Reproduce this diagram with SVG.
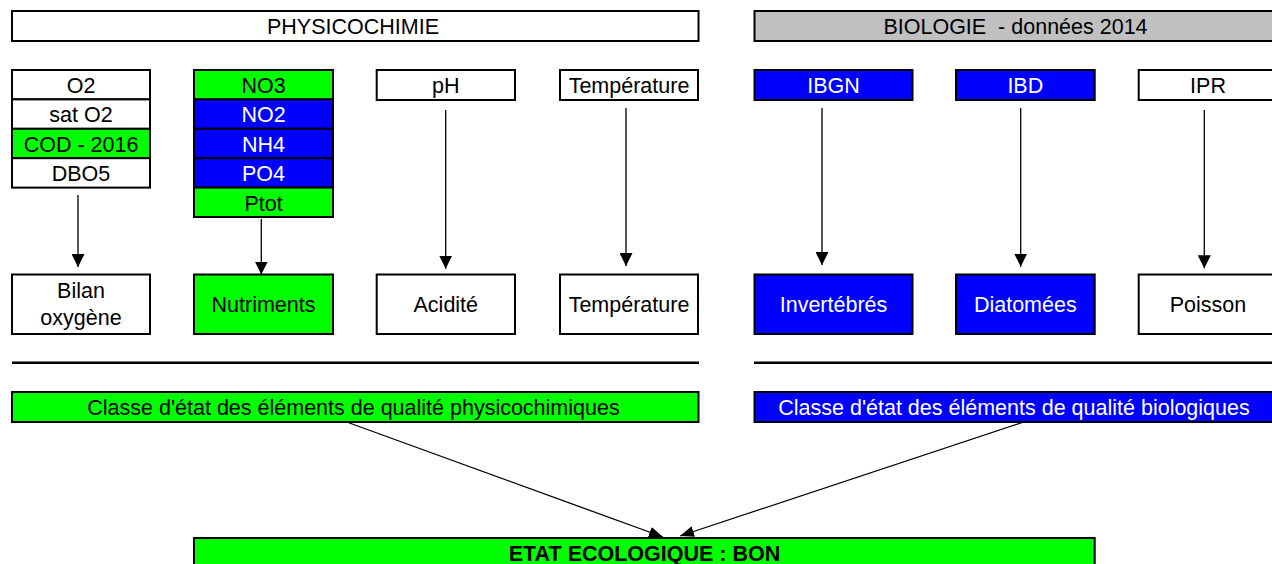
<svg xmlns="http://www.w3.org/2000/svg" width="1272" height="564" viewBox="0 0 1272 564">
  <style>
    text { font-family: "Liberation Sans", Arial, sans-serif; font-size: 21.5px; text-anchor: middle; fill: #000; }
    text.w { fill: #fff; }
    text.b { font-weight: bold; }
    rect { stroke: #000; stroke-width: 2; }
    .white { fill: #fff; }
    .green { fill: #00ff00; }
    .blue { fill: #0000ff; }
    .grey { fill: #c0c0c0; }
    .rule { stroke: #000; stroke-width: 2.5; fill: none; }
    .link { stroke: #000; stroke-width: 1.3; fill: none; }
  </style>
  <defs>
    <marker id="arrow" viewBox="0 0 13 13" refX="13" refY="6.5" markerWidth="13" markerHeight="13" markerUnits="userSpaceOnUse" orient="auto">
      <path d="M0,0 L13,6.5 L0,13 Z" fill="#000"/>
    </marker>
    <marker id="arrow-s" viewBox="0 0 14 11" refX="14" refY="5.5" markerWidth="14" markerHeight="11" markerUnits="userSpaceOnUse" orient="auto">
      <path d="M0,0 L14,5.5 L0,11 Z" fill="#000"/>
    </marker>
  </defs>

  <!-- section headers -->
  <g id="physicochimie">
    <rect class="white" x="12" y="11" width="686.5" height="30"/>
    <text x="353" y="33.5">PHYSICOCHIMIE</text>
  </g>
  <g id="biologie">
    <rect class="grey" x="754.5" y="11" width="523" height="30"/>
    <text x="1015.5" y="33.5">BIOLOGIE &#160;- données 2014</text>
  </g>

  <!-- oxygen parameters -->
  <g id="oxygene-params">
    <rect class="white" x="12" y="70" width="138" height="29.4"/>
    <text x="81" y="93">O2</text>
    <rect class="white" x="12" y="99.4" width="138" height="29.4"/>
    <text x="81" y="122.4">sat O2</text>
    <rect class="green" x="12" y="128.8" width="138" height="29.4"/>
    <text x="81" y="151.8">COD - 2016</text>
    <rect class="white" x="12" y="158.2" width="138" height="29.4"/>
    <text x="81" y="181.2">DBO5</text>
  </g>

  <!-- nutrient parameters -->
  <g id="nutriments-params">
    <rect class="green" x="194" y="70" width="139" height="29.4"/>
    <text x="263.5" y="93">NO3</text>
    <rect class="blue" x="194" y="99.4" width="139" height="29.4"/>
    <text class="w" x="263.5" y="122.4">NO2</text>
    <rect class="blue" x="194" y="128.8" width="139" height="29.4"/>
    <text class="w" x="263.5" y="151.8">NH4</text>
    <rect class="blue" x="194" y="158.2" width="139" height="29.4"/>
    <text class="w" x="263.5" y="181.2">PO4</text>
    <rect class="green" x="194" y="187.6" width="139" height="29.4"/>
    <text x="263.5" y="210.6">Ptot</text>
  </g>

  <g id="ph">
    <rect class="white" x="376.7" y="70" width="138.3" height="30"/>
    <text x="445.8" y="92.5">pH</text>
  </g>
  <g id="temperature-param">
    <rect class="white" x="560" y="70" width="138" height="30"/>
    <text x="629" y="92.5">Température</text>
  </g>
  <g id="ibgn">
    <rect class="blue" x="754.5" y="70" width="158" height="30"/>
    <text class="w" x="833.5" y="92.5">IBGN</text>
  </g>
  <g id="ibd">
    <rect class="blue" x="956" y="70" width="138.7" height="30"/>
    <text class="w" x="1025.3" y="92.5">IBD</text>
  </g>
  <g id="ipr">
    <rect class="white" x="1138.7" y="70" width="139" height="30"/>
    <text x="1208" y="92.5">IPR</text>
  </g>

  <!-- quality elements -->
  <g id="bilan-oxygene">
    <rect class="white" x="12" y="274.5" width="138" height="59.5"/>
    <text x="81" y="298">Bilan</text>
    <text x="81" y="325">oxygène</text>
  </g>
  <g id="nutriments">
    <rect class="green" x="194" y="274.5" width="139" height="59.5"/>
    <text x="263.5" y="312">Nutriments</text>
  </g>
  <g id="acidite">
    <rect class="white" x="376.7" y="274.5" width="138.3" height="59.5"/>
    <text x="445.8" y="312">Acidité</text>
  </g>
  <g id="temperature">
    <rect class="white" x="560" y="274.5" width="138" height="59.5"/>
    <text x="629" y="312">Température</text>
  </g>
  <g id="invertebres">
    <rect class="blue" x="754.5" y="274.5" width="158" height="59.5"/>
    <text class="w" x="833.5" y="312">Invertébrés</text>
  </g>
  <g id="diatomees">
    <rect class="blue" x="956" y="274.5" width="138.7" height="59.5"/>
    <text class="w" x="1025.3" y="312">Diatomées</text>
  </g>
  <g id="poisson">
    <rect class="white" x="1138.7" y="274.5" width="139" height="59.5"/>
    <text x="1208" y="312">Poisson</text>
  </g>

  <!-- separators -->
  <g id="separators">
    <line class="rule" x1="12" y1="362.7" x2="699" y2="362.7"/>
    <line class="rule" x1="754" y1="362.7" x2="1278" y2="362.7"/>
  </g>

  <!-- class of state -->
  <g id="classe-physicochimique">
    <rect class="green" x="12" y="392" width="686.5" height="30"/>
    <text x="353.5" y="414.5">Classe d'état des éléments de qualité physicochimiques</text>
  </g>
  <g id="classe-biologique">
    <rect class="blue" x="754.5" y="392" width="523" height="30"/>
    <text class="w" x="1014" y="414.5">Classe d'état des éléments de qualité biologiques</text>
  </g>

  <g id="etat-ecologique">
    <rect class="green" x="194" y="538" width="900.7" height="30"/>
    <text class="b" x="644.5" y="560.5">ETAT ECOLOGIQUE : BON</text>
  </g>

  <!-- connectors -->
  <g id="connectors">
    <line class="link" x1="78" y1="195" x2="78" y2="267" marker-end="url(#arrow)"/>
    <line class="link" x1="261.3" y1="219" x2="261.3" y2="274.5" marker-end="url(#arrow)"/>
    <line class="link" x1="445.7" y1="110" x2="445.7" y2="268.7" marker-end="url(#arrow)"/>
    <line class="link" x1="626" y1="108" x2="626" y2="266" marker-end="url(#arrow)"/>
    <line class="link" x1="822" y1="108" x2="822" y2="265" marker-end="url(#arrow)"/>
    <line class="link" x1="1020.7" y1="108" x2="1020.7" y2="266.7" marker-end="url(#arrow)"/>
    <line class="link" x1="1204.3" y1="110" x2="1204.3" y2="268.3" marker-end="url(#arrow)"/>
    <line class="link" x1="346.7" y1="422" x2="663" y2="537" marker-end="url(#arrow-s)"/>
    <line class="link" x1="1021.7" y1="422.7" x2="680" y2="536" marker-end="url(#arrow-s)"/>
  </g>
</svg>
